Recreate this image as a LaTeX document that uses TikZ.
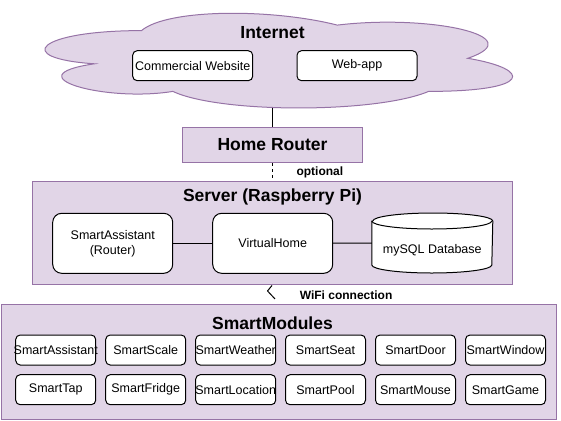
\documentclass[tikz,border=0pt]{standalone}
\usepackage{fontspec}
\setmainfont{Liberation Sans}
\definecolor{lilac}{HTML}{E1D5E7}
\definecolor{lilacedge}{HTML}{9673A6}

\begin{document}
\begin{tikzpicture}[
  x=1pt, y=-1pt, line width=1pt,
  font=\fontsize{12.5}{15}\selectfont,
  grp/.style={draw=lilacedge, fill=lilac, inner sep=0pt},
  box/.style={draw, fill=white, rounded corners=4.5pt, inner sep=0pt, align=center},
  bigbox/.style={box, rounded corners=9pt, minimum width=120, minimum height=60},
  webbox/.style={box, minimum width=120, minimum height=30},
  mod/.style={box, minimum width=80, minimum height=30},
  ttl/.style={font=\fontsize{17.5}{20}\selectfont\bfseries},
  lbl/.style={font=\fontsize{12}{15}\selectfont\bfseries, inner sep=0pt},
  link/.style={draw},
  opt/.style={draw, dash pattern=on 3pt off 3pt},
  wifi/.style={draw, line join=round},
]
\useasboundingbox (0,0) rectangle (561,420);

% ---------------- internet ----------------
\draw[draw=lilacedge, fill=lilac] (141.5,30.6)
  .. controls (37.1,30.6) and (11,58.3) .. (94.5,63.8)
  .. controls (11,75.9) and (105,102.5) .. (172.8,91.4)
  .. controls (219.8,113.5) and (376.4,113.5) .. (428.6,91.4)
  .. controls (533,91.4) and (533,69.3) .. (467.8,58.3)
  .. controls (533,36.2) and (428.6,14.1) .. (337.3,25.1)
  .. controls (272,8.5) and (167.6,8.5) .. (141.5,30.6) -- cycle;
\node[ttl]    (inet)   at (272.5,33)   {Internet};
\node[webbox] (shop)   at (192.7,65.7) {Commercial Website};
\node[webbox] (webapp) at (357,65.7)   {Web-app};
\coordinate   (inetfoot) at (272.5,107.5);

% ---------------- home ----------------
\node[grp, ttl, minimum width=180.7, minimum height=35.7] (router) at (272.5,145) {Home Router};
\node[lbl, anchor=west] (optlbl) at (296,172) {optional};

\node[grp, minimum width=479.7, minimum height=103.3] (server) at (272.5,233.3) {};
\node[ttl]    (srvtitle) at (272.5,197)   {Server (Raspberry Pi)};
\node[bigbox] (assist)   at (112.7,243.3) {SmartAssistant\\(Router)};
\node[bigbox] (vhome)    at (272.7,243.3) {VirtualHome};

% database drum
\node[minimum width=120, minimum height=59, inner sep=0pt] (db) at (432.3,243) {};
\draw[fill=white] ([yshift=-8pt]db.north west) -- ([yshift=8pt]db.south west)
  arc[start angle=180, end angle=0, x radius=60, y radius=8] -- ([yshift=-8pt]db.north east)
  arc[start angle=0, end angle=-180, x radius=60, y radius=8] -- cycle;
\draw ([yshift=-8pt]db.north west) arc[start angle=180, end angle=0, x radius=60, y radius=8];
\node (dbname) at ([yshift=-7pt]db.center) {mySQL Database};

\draw[link] (assist) -- (vhome);
\draw[link] (vhome) -- (db);
\draw[link] (inetfoot) -- (router);
\draw[opt] (router) -- (server);

% ---------------- modules ----------------
\node[grp, minimum width=555, minimum height=115] (mods) at (278.5,361.8) {};
\node[ttl] (modtitle) at (272.5,323) {SmartModules};

\draw[wifi] ([xshift=-0.5pt]server.south) -- ++(-4.5,5.5) -- ++(7.5,8);
\node[lbl, anchor=west] (wifilbl) at (299.3,295) {WiFi connection};

\node[mod] (assistmod) at (55.7,350)   {\makebox[0pt]{SmartAssistant}};
\node[mod] (scale)     at (145.7,350)  {\makebox[0pt]{SmartScale}};
\node[mod] (weather)   at (235.7,350)  {\makebox[0pt]{SmartWeather}};
\node[mod] (seat)      at (325.5,350)  {\makebox[0pt]{SmartSeat}};
\node[mod] (door)      at (415.5,350)  {\makebox[0pt]{SmartDoor}};
\node[mod] (window)    at (505.5,350)  {\makebox[0pt]{SmartWindow}};

\node[mod] (tap)       at (55.7,389.7)  {\makebox[0pt]{SmartTap}};
\node[mod] (fridge)    at (145.7,389.7) {\makebox[0pt]{SmartFridge}};
\node[mod] (location)  at (235.7,389.7) {\makebox[0pt]{SmartLocation}};
\node[mod] (pool)      at (325.5,389.7) {\makebox[0pt]{SmartPool}};
\node[mod] (mouse)     at (415.5,389.7) {\makebox[0pt]{SmartMouse}};
\node[mod] (game)      at (505.5,389.7) {\makebox[0pt]{SmartGame}};

\end{tikzpicture}
\end{document}
